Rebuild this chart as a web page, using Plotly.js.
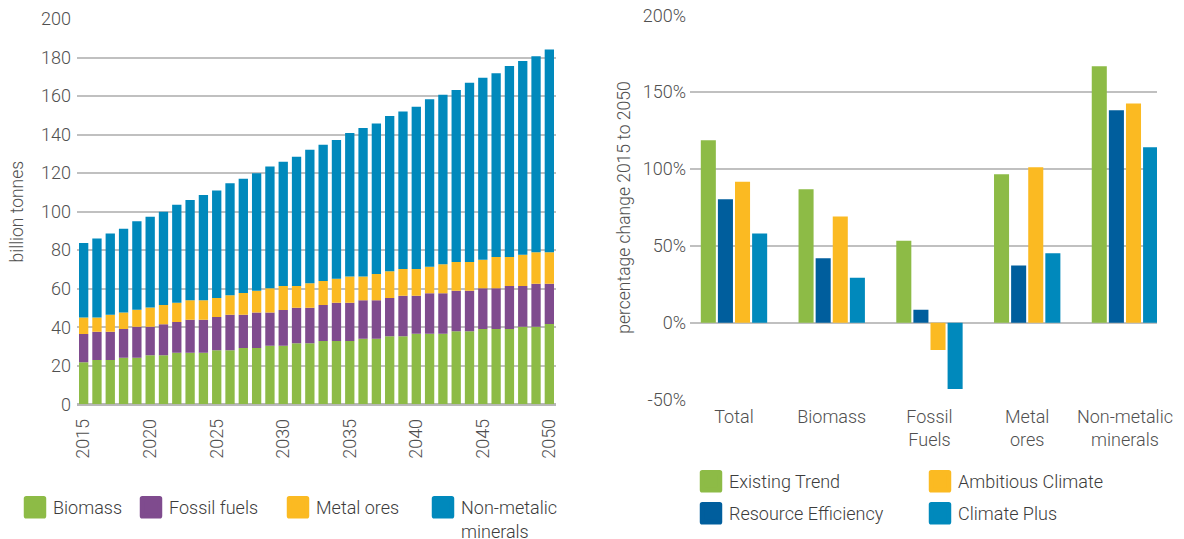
<!DOCTYPE html>
<html>
<head>
<meta charset="utf-8">
<script src="https://cdn.plot.ly/plotly-3.0.1.min.js"></script>
<style>
  html, body { margin: 0; padding: 0; background: #ffffff; }
  #chart { width: 1184px; height: 539px; }
</style>
</head>
<body>
<div id="chart"></div>
<script>
// ---------- Left chart: material extraction (billion tonnes) ----------
const years = [2015, 2016, 2017, 2018, 2019, 2020, 2021, 2022, 2023, 2024,
               2025, 2026, 2027, 2028, 2029, 2030, 2031, 2032, 2033, 2034,
               2035, 2036, 2037, 2038, 2039, 2040, 2041, 2042, 2043, 2044,
               2045, 2046, 2047, 2048, 2049, 2050];
const biomass = [21.8, 23.0, 23.0, 24.2, 24.2, 25.4, 25.4, 26.8, 26.8, 26.8,
                 28.0, 28.0, 29.2, 29.2, 30.4, 30.4, 31.7, 31.7, 32.8, 32.8,
                 32.8, 34.0, 34.0, 35.3, 35.3, 36.6, 36.6, 36.6, 37.9, 37.9,
                 39.1, 39.1, 39.1, 40.3, 40.3, 41.7];
const fossilFuels = [14.7, 14.7, 14.7, 14.9, 16.1, 14.9, 16.1, 15.9, 17.1, 17.1,
                     17.3, 18.5, 17.3, 18.5, 17.3, 18.5, 18.4, 18.4, 18.7, 19.9,
                     19.9, 20.0, 20.0, 19.9, 21.1, 19.8, 21.0, 21.0, 21.1, 21.1,
                     21.1, 21.1, 22.3, 21.1, 22.3, 20.9];
const metalOres = [8.6, 7.4, 8.8, 8.6, 8.8, 10.0, 10.0, 10.0, 10.1, 10.1,
                   9.9, 10.1, 11.3, 11.3, 12.5, 12.5, 11.3, 12.7, 12.5, 12.5,
                   13.7, 12.4, 13.6, 13.8, 13.8, 13.8, 13.8, 15.1, 14.8, 14.8,
                   14.8, 16.2, 15.0, 16.2, 16.3, 16.3];
const nonMetallicMinerals = [38.6, 41.0, 42.2, 43.4, 45.9, 47.1, 48.5, 50.9, 52.0, 54.6,
                             55.8, 58.1, 59.3, 60.9, 63.3, 64.5, 67.1, 69.3, 70.7, 72.0,
                             74.4, 77.0, 78.2, 80.6, 81.8, 84.2, 86.9, 88.0, 89.3, 93.1,
                             94.5, 95.5, 99.2, 100.6, 101.7, 105.3];

// ---------- Right chart: percentage change 2015 to 2050 ----------
const categories = ['Total', 'Biomass', 'Fossil<br>Fuels', 'Metal<br>ores', 'Non-metalic<br>minerals'];
const existingTrend      = [118.8, 86.9, 53.3, 96.7, 166.9];
const resourceEfficiency = [80.4, 42.0, 8.5, 37.3, 138.3];
const ambitiousClimate   = [91.7, 69.1, -17.6, 101.2, 142.6];
const climatePlus        = [58.1, 29.3, -43.1, 45.3, 114.2];
const pctTickVals = [-50, 0, 50, 100, 150, 200];
const pctTickText = ['-50%', '0%', '50%', '100%', '150%', '200%'];

// ---------- styling ----------
const GREEN = '#8dbb46', PURPLE = '#7f4b8e', YELLOW = '#fbba22', BLUE = '#0089bc', DARKBLUE = '#005e9d';
const FONT = 'Roboto, "Noto Sans", "DejaVu Sans", sans-serif';
const TICKCOL = '#505050', TEXTCOL = '#3c3c3c', GRID = '#c0c0c0';
const W = 1184, H = 539;
const px = v => v / W, py = v => 1 - v / H;

function leftBar(y, name, color, legendId) {
  return { type: 'bar', x: years, y: y, name: name, marker: { color: color, line: { width: 0 } },
           xaxis: 'x', yaxis: 'y', offsetgroup: 'stack', width: 0.7, legend: legendId };
}
function rightBar(y, name, color, group, legendId) {
  return { type: 'bar', x: categories, y: y, name: name, marker: { color: color, line: { width: 0 } },
           xaxis: 'x2', yaxis: 'y2', offsetgroup: group, legend: legendId };
}

const data = [
  leftBar(biomass, 'Biomass', GREEN, 'legend'),
  leftBar(fossilFuels, 'Fossil fuels', PURPLE, 'legend2'),
  leftBar(metalOres, 'Metal ores', YELLOW, 'legend3'),
  leftBar(nonMetallicMinerals, 'Non-metalic<br>minerals', BLUE, 'legend4'),
  rightBar(existingTrend, 'Existing Trend', GREEN, 'g1', 'legend5'),
  rightBar(resourceEfficiency, 'Resource Efficiency', DARKBLUE, 'g2', 'legend6'),
  rightBar(ambitiousClimate, 'Ambitious Climate', YELLOW, 'g3', 'legend7'),
  rightBar(climatePlus, 'Climate Plus', BLUE, 'g4', 'legend8')
];

function legendAt(textX, textY) {
  return { x: px(textX - 40), xanchor: 'left', y: py(textY), yanchor: 'top', valign: 'top',
           bgcolor: 'rgba(0,0,0,0)', borderwidth: 0, tracegroupgap: 0,
           font: { family: FONT, size: 18, color: TEXTCOL, weight: 300 } };
}

const layout = {
  width: W, height: H,
  margin: { l: 0, r: 0, t: 0, b: 0, autoexpand: false },
  paper_bgcolor: '#ffffff', plot_bgcolor: '#ffffff',
  font: { family: FONT, size: 17, color: TICKCOL, weight: 300 },
  barmode: 'relative',
  bargap: 0.3,
  bargroupgap: 0.12,
  showlegend: true,
  xaxis: {
    domain: [px(77), px(556)], anchor: 'y',
    range: [2014.5, 2050.5], tick0: 2015, dtick: 5, tickangle: -90,
    showgrid: false, zeroline: false, showline: false, ticks: '',
    tickfont: { family: FONT, size: 18, color: TICKCOL, weight: 300 },
    ticklabelstandoff: 10, automargin: false, fixedrange: true
  },
  yaxis: {
    domain: [py(404.3), py(19)], anchor: 'x',
    range: [0, 200], dtick: 20,
    showgrid: true, gridcolor: GRID, gridwidth: 2,
    zeroline: true, zerolinecolor: '#b8b8b8', zerolinewidth: 3,
    showline: false, ticks: '',
    tickfont: { family: FONT, size: 18, color: TICKCOL, weight: 300 },
    ticklabelstandoff: 5, automargin: false, fixedrange: true,
    title: { text: 'billion tonnes', font: { family: FONT, size: 17.5, color: TICKCOL, weight: 300 }, standoff: 12 }
  },
  xaxis2: {
    domain: [px(690), px(1157)], anchor: 'y2',
    range: [-0.45, 4.328], type: 'category',
    showgrid: false, zeroline: false, showline: false, ticks: '',
    tickfont: { family: FONT, size: 18, color: TICKCOL, weight: 300 },
    ticklabelstandoff: 4, automargin: false, fixedrange: true
  },
  yaxis2: {
    domain: [py(399.7), py(15.3)], anchor: 'x2',
    range: [-50, 200], tickvals: pctTickVals, ticktext: pctTickText,
    showgrid: true, gridcolor: GRID, gridwidth: 2,
    zeroline: false, showline: false, ticks: '',
    tickfont: { family: FONT, size: 18, color: TICKCOL, weight: 300 },
    ticklabelstandoff: 3, automargin: false, fixedrange: true,
    title: { text: 'percentage change 2015 to 2050', font: { family: FONT, size: 17.5, color: TICKCOL, weight: 300 }, standoff: 7 }
  },
  legend:  legendAt(53, 489),
  legend2: legendAt(169, 489),
  legend3: legendAt(316, 489),
  legend4: legendAt(461, 489),
  legend5: legendAt(729, 463),
  legend6: legendAt(729, 495),
  legend7: legendAt(958, 463),
  legend8: legendAt(958, 495)
};

// Enlarge the legend swatches into rounded squares like the reference
function styleSwatches(gd) {
  gd.querySelectorAll('g.legendpoints path').forEach(p => {
    const t = p.getAttribute('transform') || '';
    if (t.indexOf('scale') === -1) p.setAttribute('transform', 'translate(2,0) ' + t + ' scale(1.45)');
    const fill = p.style.fill;
    p.style.stroke = fill;
    p.style.strokeWidth = '3.5px';
    p.style.strokeLinejoin = 'round';
  });
}

Plotly.newPlot('chart', data, layout, { displayModeBar: false, staticPlot: true })
  .then(styleSwatches);
</script>
</body>
</html>
